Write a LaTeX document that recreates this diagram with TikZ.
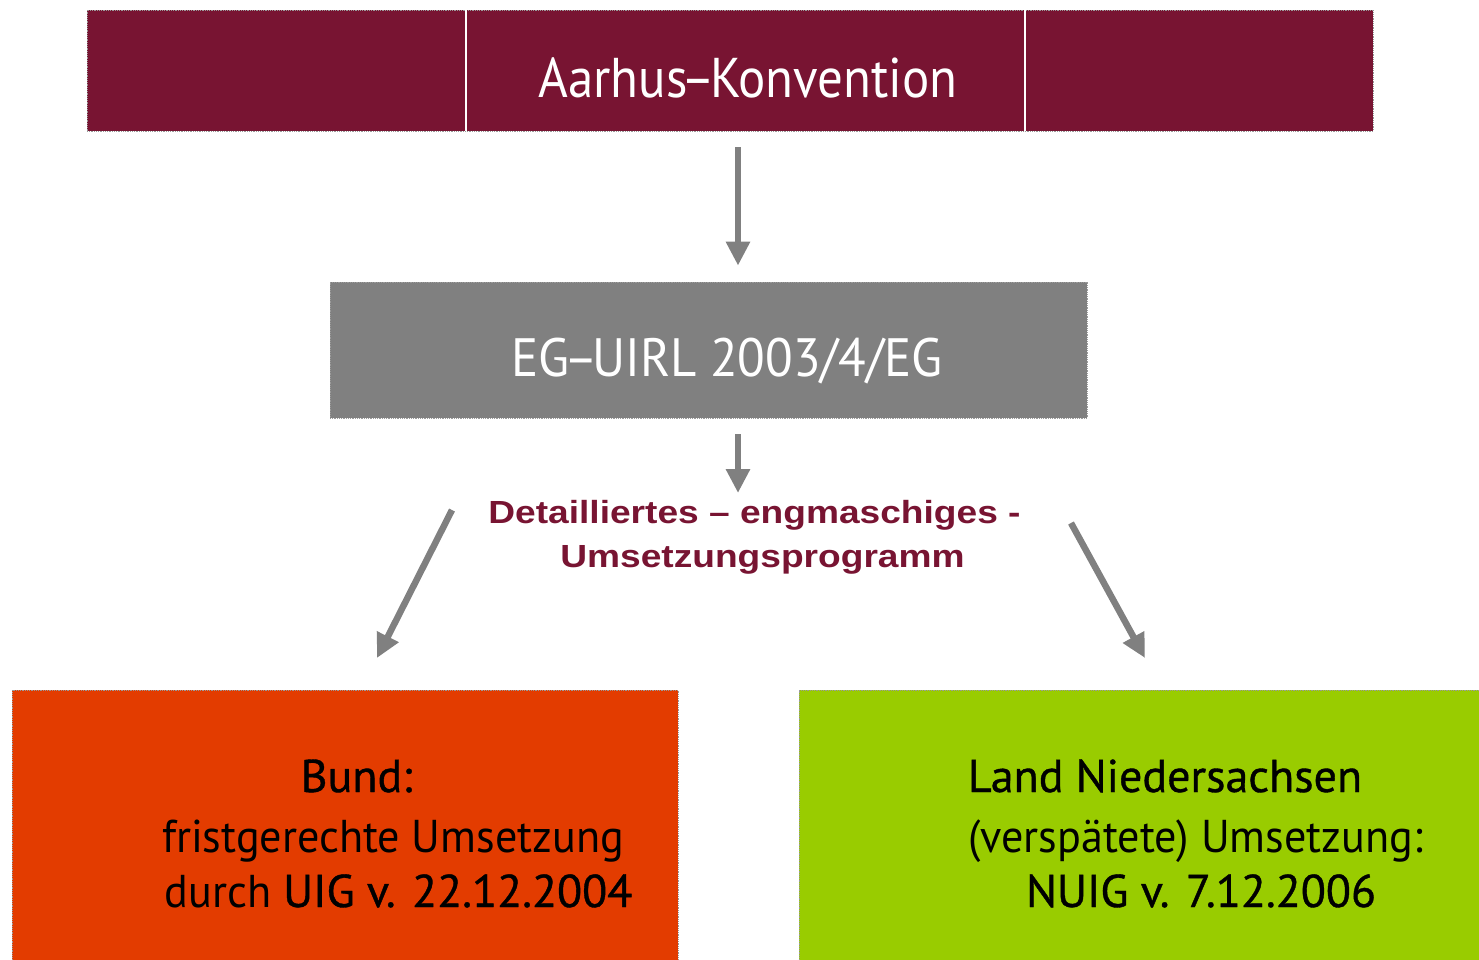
\documentclass[tikz,border=0pt]{standalone}
\usepackage{fontspec}
\setmainfont{PT Sans}
\newfontfamily\frut[FakeStretch=0.91]{PT Sans}
\newfontfamily\frutg[FakeStretch=0.94]{PT Sans}
\newfontfamily\frutc[FakeStretch=0.96]{PT Sans}
\newfontfamily\frutcb[FakeStretch=1.0,FakeBold=0.8]{PT Sans}
\newfontfamily\arialf[FakeStretch=1.16]{Liberation Sans}
\usetikzlibrary{arrows.meta,calc}
\definecolor{wine}{HTML}{781432}
\definecolor{arrgray}{HTML}{808080}
\definecolor{boxgray}{HTML}{808080}
\definecolor{orangered}{HTML}{E33C00}
\definecolor{lime}{HTML}{99CC00}
\definecolor{dotgray}{HTML}{9A9A9A}
\newcommand{\tightdash}{\kern-0.1em–\kern-0.1em}
\tikzset{
  panel/.style={rectangle, inner sep=0pt, draw=dotgray, densely dotted, line width=0.8pt},
  arr/.style={draw=arrgray, line width=6.5pt, -{Triangle[width=23pt,length=24pt]}},
  divider/.style={draw=white, line width=2pt},
  txt/.style={inner sep=0pt, anchor=base},
}
\begin{document}
\begin{tikzpicture}[x=1pt,y=-1pt]
\useasboundingbox (0,0) rectangle (1479,959);
% panels
\node[panel, fill=wine, minimum width=1286pt, minimum height=121pt] (top) at (730,70.5) {};
\coordinate (v1) at (466,0);
\coordinate (v2) at (1025,0);
\draw[divider] (top.north -| v1) -- (top.south -| v1);
\draw[divider] (top.north -| v2) -- (top.south -| v2);
\node[panel, fill=boxgray, minimum width=757pt, minimum height=136pt] (eg) at (708.5,350) {};
\node[panel, fill=orangered, minimum width=666pt, minimum height=275pt] (bund) at (345,827.5) {};
\node[panel, fill=lime, minimum width=683pt, minimum height=275pt] (land) at (1140.5,827.5) {};
% texts
\node[txt, text=white, font=\frut\fontsize{56}{60}\selectfont] (aarhus) at (748,97) {Aarhus\tightdash Konvention};
\node[txt, text=white, font=\frutg\fontsize{54}{60}\selectfont] (egt) at (727,376) {EG\tightdash UIRL 2003/4/EG};
\node[txt, text=wine, font=\arialf\bfseries\fontsize{32}{36}\selectfont] (d1) at (754.5,523) {Detailliertes – engmaschiges -};
\node[txt, text=wine, font=\arialf\bfseries\fontsize{32}{36}\selectfont] (d2) at (762.5,567) {Umsetzungsprogramm};
\node[txt, font=\frutcb\fontsize{46}{50}\selectfont] (b1) at (356.5,792) {Bund:};
\node[txt, font=\frutc\fontsize{46}{50}\selectfont] (b2) at (393,852) {fristgerechte Umsetzung};
\node[txt, font=\frutc\fontsize{46}{50}\selectfont] (b3) at (398.5,907) {durch {\frutcb UIG v. 22.12.2004}};
\node[txt, font=\frutcb\fontsize{46}{50}\selectfont] (l1) at (1165,792) {Land Niedersachsen};
\node[txt, font=\frutc\fontsize{46}{50}\selectfont] (l2) at (1195.5,852) {(verspätete) Umsetzung:};
\node[txt, font=\frutcb\fontsize{46}{50}\selectfont] (l3) at (1201,907) {NUIG v. 7.12.2006};
% arrows
\coordinate (ax) at (738,0);
\draw[arr] ($(top.south -| ax)+(0,16)$) -- ($(eg.north -| ax)+(0,-16)$);
\coordinate (a2e) at (738,493);
\draw[arr] ($(eg.south -| ax)+(0,16)$) -- (a2e);
\coordinate (a3s) at (452,510);
\coordinate (a3e) at (377,658);
\draw[arr] (a3s) -- (a3e);
\coordinate (a4s) at (1071,523);
\coordinate (a4e) at (1145,658);
\draw[arr] (a4s) -- (a4e);
\end{tikzpicture}
\end{document}
